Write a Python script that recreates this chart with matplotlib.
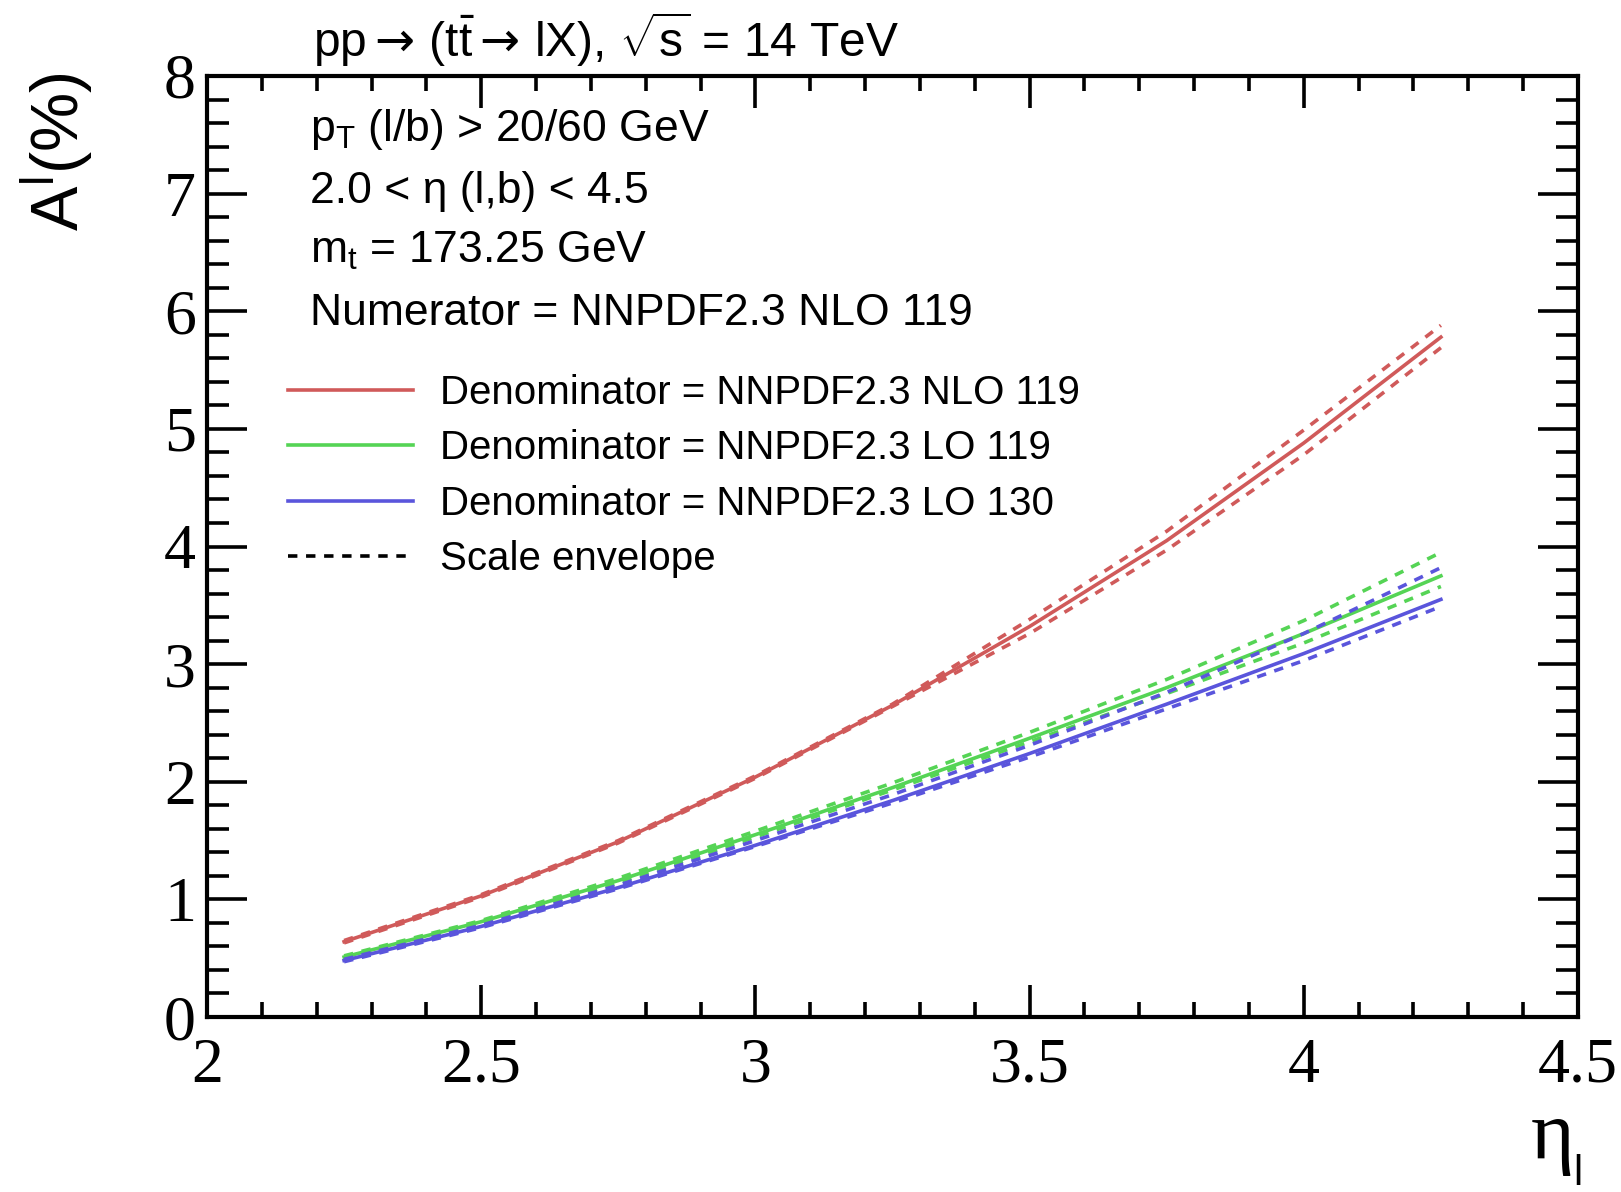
import matplotlib
matplotlib.use("Agg")
import matplotlib.pyplot as plt
from matplotlib.ticker import MultipleLocator
from matplotlib.lines import Line2D

plt.rcParams['mathtext.fontset'] = 'custom'
plt.rcParams['mathtext.rm'] = 'Liberation Sans'
plt.rcParams['mathtext.it'] = 'Liberation Sans:italic'
plt.rcParams['mathtext.sf'] = 'DejaVu Sans'

# ---- data ----
eta = [2.25, 2.5, 2.75, 3.0, 3.25, 3.5, 3.75, 4.0, 4.25]
red = [0.64, 1.03, 1.49, 2.04, 2.65, 3.32, 4.05, 4.88, 5.78]
red_up = [0.65, 1.04, 1.50, 2.05, 2.66, 3.38, 4.13, 4.99, 5.88]
red_dn = [0.63, 1.02, 1.48, 2.03, 2.64, 3.26, 3.97, 4.78, 5.69]
green = [0.51, 0.81, 1.16, 1.55, 1.95, 2.37, 2.80, 3.26, 3.75]
green_up = [0.52, 0.82, 1.18, 1.58, 1.99, 2.42, 2.87, 3.37, 3.95]
green_dn = [0.50, 0.80, 1.14, 1.53, 1.93, 2.34, 2.75, 3.18, 3.66]
blue = [0.48, 0.77, 1.10, 1.46, 1.84, 2.24, 2.66, 3.09, 3.55]
blue_up = [0.49, 0.78, 1.12, 1.50, 1.89, 2.31, 2.76, 3.26, 3.82]
blue_dn = [0.47, 0.76, 1.09, 1.45, 1.82, 2.21, 2.62, 3.03, 3.49]

labels = ["Denominator = NNPDF2.3 NLO 119",
          "Denominator = NNPDF2.3 LO 119",
          "Denominator = NNPDF2.3 LO 130",
          "Scale envelope"]
xticks = [2, 2.5, 3, 3.5, 4, 4.5]
xticklabels = ["2", "2.5", "3", "3.5", "4", "4.5"]
yticks = [0, 1, 2, 3, 4, 5, 6, 7, 8]

C_RED = "#d05a5a"
C_GREEN = "#55d455"
C_BLUE = "#5a55dc"

fig = plt.figure(figsize=(16.21, 11.92), dpi=100)
ax = fig.add_axes([207/1621, 1-1017/1192, (1578-207)/1621, (1017-76)/1192])

lw = 2.6
dash = (0, (2.6, 2.4))
for c, m, up, dn in [(C_RED, red, red_up, red_dn),
                     (C_GREEN, green, green_up, green_dn),
                     (C_BLUE, blue, blue_up, blue_dn)]:
    ax.plot(eta, up, color=c, lw=lw, ls=dash)
    ax.plot(eta, dn, color=c, lw=lw, ls=dash)
    ax.plot(eta, m, color=c, lw=lw)

ax.set_xlim(2, 4.5)
ax.set_ylim(0, 8)
ax.set_xticks(xticks)
ax.set_xticklabels(xticklabels)
ax.set_yticks(yticks)
ax.xaxis.set_minor_locator(MultipleLocator(0.1))
ax.yaxis.set_minor_locator(MultipleLocator(0.2))
for s in ax.spines.values():
    s.set_linewidth(3)
ax.tick_params(axis='x', which='major', direction='in', length=23, width=2.6,
               top=True, bottom=True, pad=15, labelsize=46)
ax.tick_params(axis='x', which='minor', direction='in', length=11, width=2.6,
               top=True, bottom=True)
ax.tick_params(axis='y', which='major', direction='in', length=29, width=2.6,
               left=True, right=True, pad=8, labelsize=46)
ax.tick_params(axis='y', which='minor', direction='in', length=16, width=2.6,
               left=True, right=True)
for lab in ax.get_xticklabels() + ax.get_yticklabels():
    lab.set_fontfamily('Liberation Serif')

sans = ['Liberation Sans', 'DejaVu Sans']
title = (r'pp$\mathsf{\rightarrow}\!$ (t$\bar{\mathrm{t}}$$\mathsf{\rightarrow}\!$ lX), '
         r'$\sqrt{\mathrm{s}}$ = 14 TeV')
fig.text(606/1621, 1-40/1192, title, ha='center', va='center', fontsize=34.5, family=sans)

info = [r'p$_{\mathrm{T}}$ (l/b) > 20/60 GeV',
        '2.0 < η (l,b) < 4.5',
        r'm$_{\mathrm{t}}$ = 173.25 GeV',
        'Numerator = NNPDF2.3 NLO 119']
info_y = [129, 192, 251, 313]
for t, y in zip(info, info_y):
    fig.text(310/1621, 1-y/1192, t, ha='left', va='center', fontsize=32, family=sans)

handles = [Line2D([], [], color=C_RED, lw=lw),
           Line2D([], [], color=C_GREEN, lw=lw),
           Line2D([], [], color=C_BLUE, lw=lw),
           Line2D([], [], color='black', lw=lw, ls=(0, (2.6, 2.4)))]
leg = fig.legend(handles, labels, loc='upper left',
                 bbox_to_anchor=(276/1621, 1-362/1192), frameon=False,
                 prop={'family': 'Liberation Sans', 'size': 29}, handlelength=3.1,
                 handletextpad=0.68, labelspacing=0.43, borderaxespad=0,
                 borderpad=0.3)

fig.text(57/1621, 1-72/1192, r'A$^{\mathrm{l}}$(%)', rotation=90, ha='center', va='top',
         fontsize=48, family=sans)
fig.text(1552/1621, 1-1138/1192, 'η', ha='center', va='center', fontsize=60,
         family='Liberation Serif')
fig.text(1578/1621, 1-1174/1192, 'l', ha='center', va='center', fontsize=30,
         family=sans)

fig.savefig('out.png', dpi=100)
